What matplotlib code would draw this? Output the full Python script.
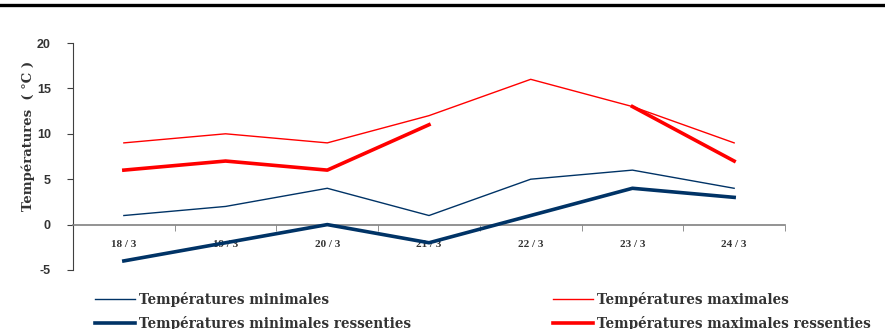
import matplotlib
matplotlib.use("Agg")
import matplotlib.pyplot as plt
import numpy as np

# data
days = ["18 / 3", "19 / 3", "20 / 3", "21 / 3", "22 / 3", "23 / 3", "24 / 3"]
t_min = [1, 2, 4, 1, 5, 6, 4]
t_max = [9, 10, 9, 12, 16, 13, 9]
t_min_felt = [-4, -2, 0, -2, 1, 4, 3]
t_max_felt = [6, 7, 6, 11, np.nan, 13, 7]
y_ticks = [-5, 0, 5, 10, 15, 20]

NAVY = "#003366"
RED = "#ff0000"
TXT = "#333333"
W, H = 885, 329

fig = plt.figure(figsize=(W / 100, H / 100), dpi=100)
ax = fig.add_axes([73 / W, 1 - 270 / H, (785 - 73) / W, (270 - 43) / H])

x = np.arange(len(days))
# order chosen so the 2-column legend reads min / max across each row
ax.plot(x, t_min, color=NAVY, lw=1.0, label="Températures minimales", zorder=3)
ax.plot(x, t_min_felt, color=NAVY, lw=2.6, label="Températures minimales ressenties", zorder=3)
ax.plot(x, t_max, color=RED, lw=1.0, label="Températures maximales", zorder=3)
ax.plot(x, t_max_felt, color=RED, lw=2.6, label="Températures maximales ressenties", zorder=3)

ax.set_xlim(-0.5, len(days) - 0.5)
ax.set_ylim(-5, 20)

for s in ["top", "right"]:
    ax.spines[s].set_visible(False)
ax.spines["left"].set_color("#404040")
ax.spines["bottom"].set_position(("data", 0))
ax.spines["bottom"].set_color("#808080")
ax.spines["bottom"].set_linewidth(1.2)

ax.set_yticks(y_ticks)
ax.set_yticklabels([str(v) for v in y_ticks], fontfamily="Liberation Sans",
                   fontweight="bold", fontsize=9, color=TXT)
ax.tick_params(axis="y", direction="out", length=4, color="#404040", pad=12)

ax.set_xticks(x)
ax.set_xticklabels(days, fontfamily="Liberation Serif", fontweight="bold",
                   fontsize=8, color=TXT)
ax.set_xticks(np.arange(len(days) + 1) - 0.5, minor=True)
ax.tick_params(axis="x", which="major", length=0, pad=11)
ax.tick_params(axis="x", which="minor", direction="out", length=4, color="#808080")

ax.set_ylabel("Températures  ( °C )", fontfamily="DejaVu Serif",
              fontweight="bold", fontsize=9.5, color=TXT)
ax.yaxis.set_label_coords(-0.054, 0.59)

fig.legend(loc="lower left", bbox_to_anchor=(83 / W, -0.042), ncol=2, frameon=False,
           prop={"family": "DejaVu Serif", "weight": "bold", "size": 9.8},
           labelcolor=TXT, handlelength=2.95, handletextpad=0.3,
           columnspacing=10.4, labelspacing=0.62)

# heavy rule along the top edge
fig.add_artist(plt.Line2D([0, 1], [1 - 5 / H, 1 - 5 / H], color="black", lw=2.4,
                          transform=fig.transFigure))

fig.savefig("out.png", dpi=100)
